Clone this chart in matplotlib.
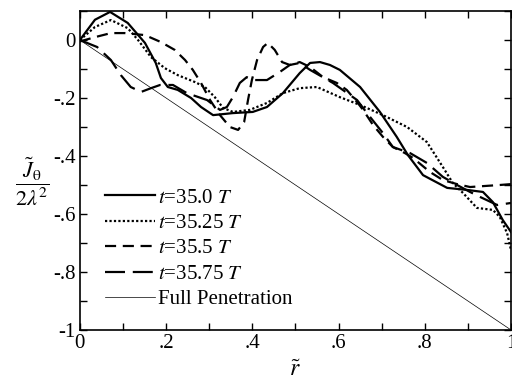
import numpy as np
import matplotlib.pyplot as plt
from matplotlib.ticker import MultipleLocator, FuncFormatter

plt.rcParams['font.family'] = ['Liberation Serif', 'DejaVu Serif']
plt.rcParams['mathtext.fontset'] = 'stix'

# t = 35.0 T
r_a = [0, 0.035, 0.070, 0.111, 0.151, 0.176, 0.188, 0.204, 0.227, 0.258, 0.281, 0.309, 0.355,
       0.401, 0.434, 0.471, 0.510, 0.534, 0.557, 0.580, 0.603, 0.650, 0.696, 0.735, 0.761,
       0.796, 0.852, 0.898, 0.935, 0.958, 0.981, 1.0]
j_a = [0, 0.07, 0.097, 0.059, -0.010, -0.079, -0.131, -0.162, -0.172, -0.200, -0.231, -0.259, -0.252,
       -0.248, -0.231, -0.183, -0.114, -0.079, -0.076, -0.086, -0.103, -0.162, -0.248, -0.334, -0.397,
       -0.466, -0.510, -0.517, -0.524, -0.559, -0.621, -0.662]

# t = 35.25 T
r_b = [0, 0.035, 0.072, 0.111, 0.135, 0.165, 0.197, 0.227, 0.267, 0.290, 0.313, 0.332, 0.355,
       0.394, 0.434, 0.471, 0.510, 0.550, 0.603, 0.650, 0.703, 0.759, 0.805, 0.842, 0.865,
       0.889, 0.921, 0.958, 0.974, 0.991, 1.0]
j_b = [0, 0.045, 0.069, 0.041, 0.0, -0.059, -0.097, -0.121, -0.145, -0.162, -0.197, -0.234, -0.248,
       -0.241, -0.217, -0.183, -0.166, -0.162, -0.197, -0.224, -0.259, -0.300, -0.352, -0.438, -0.493,
       -0.528, -0.579, -0.586, -0.610, -0.666, -0.724]

# t = 35.5 T
r_c = [0, 0.035, 0.072, 0.104, 0.151, 0.188, 0.220, 0.244, 0.262, 0.281, 0.302, 0.325, 0.348,
       0.367, 0.381, 0.390, 0.399, 0.411, 0.425, 0.436, 0.452, 0.469, 0.487, 0.510, 0.534,
       0.564, 0.596, 0.619, 0.643, 0.657, 0.680, 0.703, 0.726, 0.754, 0.773, 0.812, 0.842,
       0.875, 0.905, 0.944, 0.974, 1.0]
j_c = [-0.005, 0.01, 0.024, 0.024, 0.017, -0.007, -0.034, -0.069, -0.103, -0.148, -0.207, -0.259, -0.300,
       -0.310, -0.283, -0.207, -0.138, -0.069, -0.024, -0.010, -0.034, -0.076, -0.086, -0.076, -0.093,
       -0.128, -0.148, -0.172, -0.214, -0.241, -0.293, -0.334, -0.369, -0.390, -0.407, -0.455, -0.483,
       -0.497, -0.507, -0.503, -0.500, -0.497]

# t = 35.75 T
r_d = [0, 0.04, 0.072, 0.095, 0.118, 0.142, 0.165, 0.186, 0.216, 0.248, 0.295, 0.325, 0.341,
       0.355, 0.371, 0.387, 0.406, 0.434, 0.464, 0.487, 0.510, 0.534, 0.587, 0.643, 0.666,
       0.703, 0.726, 0.766, 0.805, 0.842, 0.875, 0.905, 0.928, 0.968, 1.0]
j_d = [0, -0.024, -0.069, -0.121, -0.162, -0.179, -0.166, -0.155, -0.155, -0.183, -0.207, -0.241, -0.231,
       -0.197, -0.148, -0.128, -0.138, -0.138, -0.110, -0.086, -0.079, -0.103, -0.148, -0.207, -0.252,
       -0.321, -0.369, -0.390, -0.424, -0.472, -0.500, -0.524, -0.541, -0.569, -0.562]

# full penetration
r_full = [0, 1]
j_full = [0, -1]

fig = plt.figure(figsize=(5.12, 3.81), dpi=100)
ax = fig.add_axes([0.156, 0.134, 0.842, 0.837])

ax.plot(r_a, j_a, 'k-', lw=1.6, label='$t$=35.0 $T$')
ax.plot(r_b, j_b, 'k', ls=(0, (1, 1)), lw=1.6, label='$t$=35.25 $T$')
ax.plot(r_c, j_c, 'k', ls=(0, (5, 3)), lw=1.6, label='$t$=35.5 $T$')
ax.plot(r_d, j_d, 'k', ls=(0, (9, 3.5)), lw=1.6, label='$t$=35.75 $T$')
ax.plot(r_full, j_full, 'k-', lw=0.5, label='Full Penetration')

ax.set_xlim(0, 1)
ax.set_ylim(-1, 0.1)
ax.xaxis.set_major_locator(MultipleLocator(0.2))
ax.xaxis.set_minor_locator(MultipleLocator(0.1))
ax.yaxis.set_major_locator(MultipleLocator(0.2))
ax.yaxis.set_minor_locator(MultipleLocator(0.1))


def fmt(v, pos):
    if abs(v) < 1e-9:
        return '0'
    s = '%g' % round(v, 2)
    return s.replace('0.', '.')


ax.xaxis.set_major_formatter(FuncFormatter(fmt))
ax.yaxis.set_major_formatter(FuncFormatter(fmt))
ax.tick_params(which='both', direction='in', top=True, right=True, labelsize=15, width=1)
ax.tick_params(which='major', length=5, pad=3)
ax.tick_params(which='minor', length=5)
for s in ax.spines.values():
    s.set_linewidth(1.2)

ax.set_xlabel(r'$\tilde{r}$', fontsize=17, labelpad=5)
fig.text(0.064, 0.522, r'$\dfrac{\tilde{J}_\mathrm{\theta}}{2\lambda^2}$', fontsize=16,
         ha='center', va='center')

ax.legend(loc='lower left', bbox_to_anchor=(0.058, 0.065), frameon=False, fontsize=15,
          handlelength=2.4, handletextpad=0.15, labelspacing=0.28, borderpad=0,
          borderaxespad=0)

fig.savefig('out.png', dpi=100)
